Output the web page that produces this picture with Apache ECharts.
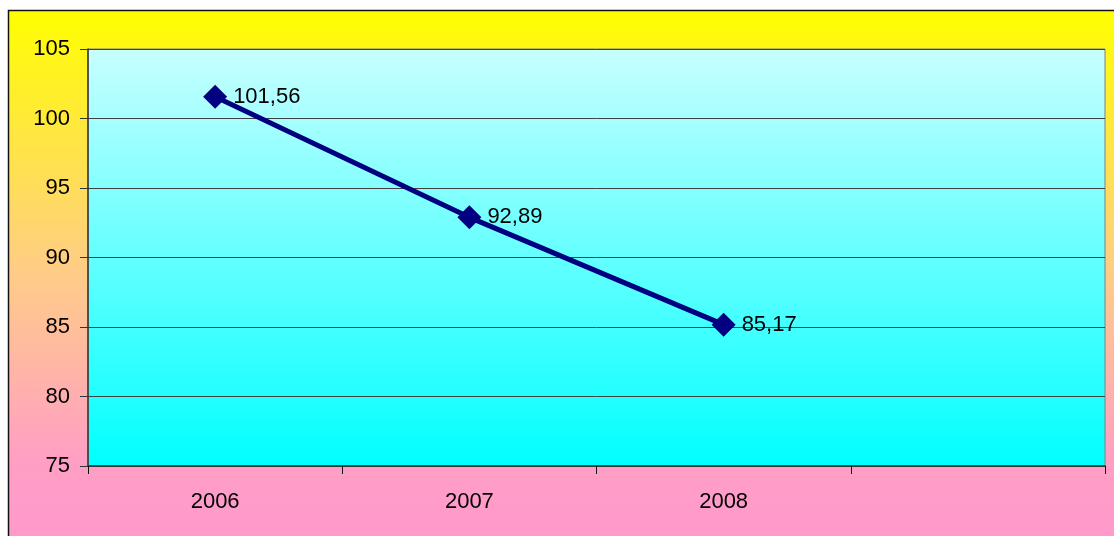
<!DOCTYPE html>
<html><head><meta charset="utf-8">
<script src="https://cdn.jsdelivr.net/npm/echarts@6/dist/echarts.min.js"></script>
<style>html,body{margin:0;padding:0;background:#fff}#c{width:1114px;height:536px}</style>
</head><body><div id="c"></div>
<script>
const categories = ['2006', '2007', '2008', ''];
const values = [101.56, 92.89, 85.17, null];
const yTicks = { min: 75, max: 105, interval: 5 };

const chart = echarts.init(document.getElementById('c'), null, { renderer: 'canvas' });
const font = 'Arial, "Liberation Sans", sans-serif';
chart.setOption({
  animation: false,
  backgroundColor: '#ffffff',
  graphic: [{
    type: 'rect', z: -10, silent: true,
    shape: { x: 8.5, y: 10.5, width: 1120, height: 528 },
    style: {
      fill: new echarts.graphic.LinearGradient(0, 0, 0, 1, [
        { offset: 0, color: '#ffff00' },
        { offset: 0.5, color: '#ffcc88' },
        { offset: 0.85, color: '#ff9fc4' },
        { offset: 1, color: '#ff99cc' }
      ]),
      stroke: '#111111', lineWidth: 1.5
    }
  }],
  grid: {
    left: 88, top: 49, width: 1017, height: 417,
    show: true, borderColor: '#808080', borderWidth: 1,
    backgroundColor: new echarts.graphic.LinearGradient(0, 0, 0, 1, [
      { offset: 0, color: '#c8ffff' },
      { offset: 1, color: '#00ffff' }
    ])
  },
  xAxis: {
    type: 'category', data: categories, boundaryGap: true,
    axisLine: { lineStyle: { color: '#333333', width: 1.5 } },
    axisTick: { show: true, length: 8, alignWithLabel: false, lineStyle: { color: '#111' } },
    axisLabel: { color: '#000', fontSize: 22, fontFamily: font, margin: 25 },
    splitLine: { show: false }
  },
  yAxis: {
    type: 'value', min: yTicks.min, max: yTicks.max, interval: yTicks.interval,
    axisLine: { show: true, lineStyle: { color: '#333333', width: 1.5 } },
    axisTick: { show: true, length: 8, lineStyle: { color: '#333' } },
    axisLabel: { color: '#000', fontSize: 22, fontFamily: font, margin: 18 },
    splitLine: { show: true, lineStyle: { color: '#404040', width: 1 } }
  },
  series: [{
    type: 'line', data: values,
    lineStyle: { color: '#000080', width: 5 },
    itemStyle: { color: '#000080' },
    symbol: 'diamond', symbolSize: 24,
    label: {
      show: true, position: 'right', distance: 6,
      color: '#000', fontSize: 22, fontFamily: font,
      formatter: p => p.value == null ? '' : String(p.value).replace('.', ',')
    }
  }]
});
</script></body></html>
